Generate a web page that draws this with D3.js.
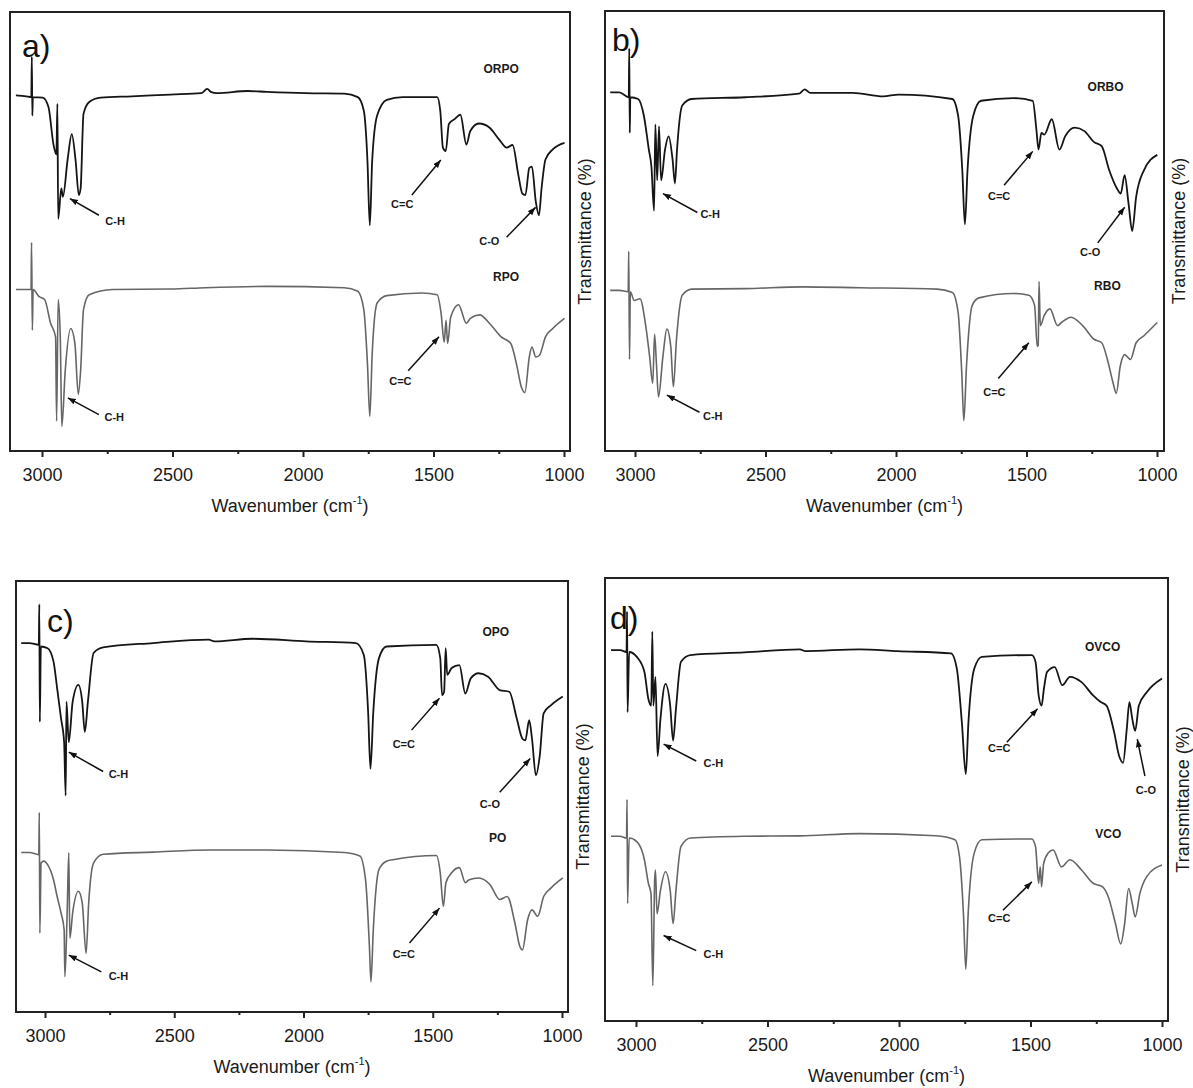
<!DOCTYPE html>
<html>
<head>
<meta charset="utf-8">
<script src="https://cdn.jsdelivr.net/npm/d3@7"></script>
<style>
  body { margin: 0; background: #fff; }
  svg { display: block; font-family: "Liberation Sans", Arial, sans-serif; }
</style>
</head>
<body>
<svg id="chart" width="1193" height="1088"></svg>
<script>
// ---- data (wavenumber cm-1, transmittance a.u. on a 0-100 panel scale) ----
const xTicks = [3000, 2500, 2000, 1500, 1000];
const xMinorTicks = [2750, 2250, 1750, 1250];

const ORPO = [[3100,81.0],[3060,80.8],[3041,80.6],[3039,89.8],[3037,76.4],[3035,80.6],[2997,80.5],[2975,78.3],[2956,69.8],[2945,67.5],[2941,79.1],[2938,52.9],[2926,59.8],[2920,57.9],[2901,66.8],[2886,72.2],[2871,66],[2859,58.3],[2852,59.8],[2841,76.8],[2819,79.5],[2775,80.5],[2656,80.8],[2508,81.2],[2390,81.5],[2367,82.5],[2353,81.8],[2330,81.5],[2212,82],[2138,81.8],[1990,81.5],[1842,81.4],[1790,80.6],[1767,77.5],[1753,66],[1744,51.4],[1735,66],[1716,76.4],[1679,80],[1619,80.6],[1486,80.6],[1474,77.5],[1464,69.1],[1453,68.3],[1441,74.5],[1419,75.6],[1397,76.6],[1374,69.8],[1359,72.9],[1326,74.6],[1286,73.7],[1249,71],[1219,69.1],[1197,69.7],[1175,62.9],[1160,58.7],[1148,58.3],[1133,64.5],[1123,64.8],[1108,56.8],[1096,53.7],[1086,59.8],[1071,66.4],[1043,68.7],[998,70.2]];
const RPO = [[3100,36.8],[3060,36.8],[3042,36.8],[3040,47.5],[3037,27.5],[3034,36.8],[3012,35.2],[2990,34.5],[2967,29.1],[2948,26],[2944,6.8],[2938,34.5],[2930,26],[2924,5.6],[2911,18.3],[2890,27.9],[2874,24.5],[2861,12.9],[2852,18.3],[2841,32.2],[2819,35.6],[2730,36.8],[2508,36.9],[2375,37.2],[2138,37.5],[1842,37.2],[1790,36.4],[1767,32.2],[1753,19.8],[1744,7.9],[1735,22],[1716,33.7],[1679,35.4],[1545,36],[1486,35.6],[1471,31.4],[1459,24.8],[1452,29.8],[1446,24.5],[1434,30.5],[1404,33.3],[1374,29.1],[1359,30.2],[1323,31],[1286,29.1],[1241,26],[1204,24.5],[1182,19.8],[1163,14.5],[1150,13.3],[1133,21.4],[1123,23.7],[1108,21.4],[1094,21.8],[1071,26],[1043,27.9],[998,30.2]];

const ORBO = [[3095,81.5],[3060,81.5],[3024,80.4],[3022,91.5],[3020,72.3],[3018,80.4],[2988,80],[2966,76.2],[2947,68.5],[2937,64.6],[2927,54.6],[2922,74.2],[2915,61.5],[2908,73.8],[2900,61.5],[2885,68.5],[2871,71.5],[2856,66.2],[2847,60.8],[2839,68.5],[2819,78.5],[2783,80],[2577,80.4],[2372,81.2],[2350,82.2],[2328,81.4],[2166,81.4],[2049,80.6],[1990,81],[1784,80],[1762,76.2],[1746,63.8],[1736,51.5],[1726,63.8],[1704,76.2],[1674,79.6],[1550,80.2],[1476,79.6],[1462,73],[1454,68.5],[1443,72.3],[1432,71.9],[1403,75.4],[1374,68.5],[1352,71.5],[1315,73.5],[1278,72.7],[1241,70.2],[1212,69.3],[1183,63.8],[1153,59.6],[1139,58.5],[1124,62.7],[1109,56.2],[1095,50],[1080,57.7],[1050,63.8],[999,67.3]];
const RBO = [[3095,36.5],[3060,36.5],[3026,36.2],[3024,45.4],[3021,20.8],[3018,36.2],[3003,34.2],[2981,34.6],[2959,28.5],[2944,21.5],[2932,15.4],[2925,26.5],[2918,20],[2910,12.3],[2893,21.5],[2878,27.7],[2863,23.8],[2853,14.6],[2841,25.4],[2819,35.4],[2783,36.8],[2577,36.9],[2357,37.3],[2137,37.1],[1843,36.8],[1784,36],[1762,31.5],[1748,17.7],[1740,6.9],[1730,19.2],[1708,33.1],[1682,34.8],[1550,35.8],[1491,35.4],[1469,33.1],[1459,23.8],[1455,24],[1452,38.5],[1447,28.5],[1432,30.8],[1410,32.3],[1381,28.5],[1366,29.2],[1329,30.4],[1285,28.5],[1241,25.4],[1212,24.6],[1190,20.8],[1168,15.4],[1156,13.1],[1141,19.2],[1124,21.9],[1102,20.8],[1080,24.6],[1050,26.2],[999,29.2]];

const OPO = [[3092,85.6],[3060,85.6],[3024,85.2],[3022,94.6],[3020,67.3],[3016,84.8],[2990,84.4],[2967,81.3],[2953,75.1],[2938,68.1],[2926,62.6],[2920,50.2],[2917,72],[2908,62.6],[2893,72],[2871,75.9],[2856,72],[2846,65],[2834,72],[2812,83.3],[2775,84.6],[2582,85.6],[2367,86.4],[2345,86],[2197,86.6],[1990,86],[1797,85.6],[1767,82.9],[1750,69.6],[1741,56.4],[1730,69.6],[1708,82.1],[1679,84.8],[1486,85.2],[1471,82.1],[1464,73.5],[1456,74.3],[1450,84.4],[1444,78.2],[1427,79.8],[1397,80.5],[1374,73.9],[1353,77.4],[1323,78.6],[1286,77.8],[1241,74.7],[1204,74.3],[1175,68.1],[1153,63.4],[1142,63],[1127,67.7],[1116,63.4],[1101,54.9],[1086,59.5],[1071,69.3],[1042,71.2],[997,73.2]];
const PO = [[3092,37],[3060,37],[3024,36.5],[3022,46.3],[3020,18.3],[3015,34.6],[3004,35],[2990,34.2],[2967,30.7],[2953,26.8],[2938,23],[2926,19.1],[2923,8.2],[2914,23.7],[2908,37],[2904,17.1],[2893,23],[2871,28],[2856,25.3],[2841,13.6],[2831,25.3],[2812,34.6],[2775,36.6],[2582,37.1],[2360,37.6],[2138,37.6],[1842,37],[1782,36.2],[1760,30.7],[1745,15.2],[1739,7],[1730,19.1],[1708,33.1],[1679,35],[1649,35.4],[1486,36.3],[1471,32.3],[1459,24.5],[1449,30],[1427,32.3],[1397,33.5],[1374,30],[1359,30.7],[1323,31.1],[1279,29.6],[1241,26.1],[1212,26.8],[1182,20.6],[1163,15.2],[1153,14.4],[1133,21.4],[1116,23.7],[1094,22.2],[1071,26.8],[1042,28.8],[997,31.1]];

const OVCO = [[3095,83.7],[3060,83.7],[3036,83.3],[3034,92.4],[3032,69.7],[3026,83.3],[2997,82.2],[2968,78.8],[2953,72.7],[2942,71.2],[2938,87.9],[2934,71.2],[2926,77.7],[2918,59.8],[2907,68.2],[2888,76.1],[2870,71.2],[2859,63.3],[2848,70.5],[2829,81.1],[2793,82.6],[2589,83.2],[2377,83.9],[2356,83.5],[2151,83.9],[2006,83.5],[1802,83],[1780,79.5],[1761,67.4],[1746,55.7],[1736,67.4],[1714,79.5],[1685,82.2],[1495,82.6],[1481,81.1],[1469,73.5],[1458,71.2],[1449,75],[1437,78.8],[1408,79.9],[1379,75.8],[1350,77.7],[1306,76.5],[1262,73.5],[1233,72],[1211,71.2],[1182,65.2],[1163,59.8],[1148,58.3],[1134,65.9],[1124,72],[1113,68.2],[1102,65.5],[1088,71.2],[1058,74.2],[1000,77.3]];
const VCO = [[3095,41.7],[3060,41.7],[3036,41.3],[3034,50],[3032,26.5],[3026,41.3],[2997,40.5],[2968,36.4],[2953,31.1],[2943,28.8],[2936,8],[2929,31.8],[2926,34.1],[2920,24.2],[2907,29.5],[2888,33.7],[2870,29.5],[2859,22],[2848,29.5],[2829,39.4],[2793,41.3],[2589,41.7],[2377,41.8],[2151,42.3],[1860,41.8],[1787,40.9],[1770,37.1],[1755,24.2],[1746,11.7],[1737,24.2],[1714,37.9],[1685,40.9],[1495,41.1],[1481,39.4],[1469,31.1],[1463,34.8],[1458,30.3],[1450,35.6],[1433,37.9],[1414,38.6],[1382,34.8],[1350,36.4],[1306,34.1],[1262,31.1],[1226,30.3],[1204,28],[1177,22],[1157,17.4],[1142,22],[1127,29.9],[1113,26.5],[1102,23.5],[1084,28.8],[1058,32.6],[1000,35.2]];

// sample names: [name, wavenumber, value]
const namesA = [["ORPO", 1241, 86.8], ["RPO", 1222, 39.5]];
const namesB = [["ORBO", 1197, 82.5], ["RBO", 1190, 37.3]];
const namesC = [["OPO", 1256, 87.9], ["PO", 1249, 40.1]];
const namesD = [["OVCO", 1226, 84.2], ["VCO", 1204, 42.0]];

// band annotations: arrow tip, arrow tail, label (all wavenumber/value)
const notesA = [
  {text: "C-H", tip: [2893, 57.5], tail: [2782, 53.7], at: [2720, 52.1]},
  {text: "C=C", tip: [1472, 66.3], tail: [1583, 58.3], at: [1620, 56.0]},
  {text: "C-O", tip: [1109, 55.5], tail: [1220, 48.7], at: [1286, 47.5]},
  {text: "C-H", tip: [2901, 12.1], tail: [2782, 8.3], at: [2723, 7.5]},
  {text: "C=C", tip: [1479, 26.0], tail: [1597, 18.3], at: [1627, 15.6]}
];
const notesB = [
  {text: "C-H", tip: [2893, 58.5], tail: [2761, 54.2], at: [2712, 53.7]},
  {text: "C=C", tip: [1476, 68.1], tail: [1586, 60.4], at: [1605, 57.7]},
  {text: "C-O", tip: [1124, 55.4], tail: [1227, 47.3], at: [1256, 45.0]},
  {text: "C-H", tip: [2878, 12.7], tail: [2753, 8.8], at: [2702, 7.7]},
  {text: "C=C", tip: [1491, 24.6], tail: [1608, 16.5], at: [1623, 13.1]}
];
const notesC = [
  {text: "C-H", tip: [2908, 60.3], tail: [2775, 55.8], at: [2716, 54.9]},
  {text: "C=C", tip: [1474, 72.8], tail: [1582, 65.4], at: [1612, 62.0]},
  {text: "C-O", tip: [1123, 58.8], tail: [1241, 51.0], at: [1279, 47.9]},
  {text: "C-H", tip: [2908, 13.2], tail: [2782, 9.3], at: [2716, 8.2]},
  {text: "C=C", tip: [1474, 24.1], tail: [1590, 16.0], at: [1612, 13.2]}
];
const notesD = [
  {text: "C-H", tip: [2895, 62.5], tail: [2771, 58.7], at: [2706, 58.0]},
  {text: "C=C", tip: [1473, 70.5], tail: [1590, 62.9], at: [1619, 61.4]},
  {text: "C-O", tip: [1094, 63.6], tail: [1065, 55.3], at: [1061, 51.9]},
  {text: "C-H", tip: [2895, 19.3], tail: [2771, 15.9], at: [2706, 14.8]},
  {text: "C=C", tip: [1495, 31.4], tail: [1605, 25.0], at: [1619, 23.1]}
];

// ---- layout ----
const panels = [
  {tag: "a)", tagX: 12, tagY: 45, l: 10,  t: 12,  r: 570,  b: 451,  x3000: 42,  x1000: 564,  upper: ORPO, lower: RPO, names: namesA, notes: notesA},
  {tag: "b)", tagX: 7,  tagY: 40, l: 605, t: 11,  r: 1164, b: 451,  x3000: 635, x1000: 1157, upper: ORBO, lower: RBO, names: namesB, notes: notesB},
  {tag: "c)", tagX: 31, tagY: 51, l: 16,  t: 581, r: 568,  b: 1012, x3000: 45,  x1000: 562,  upper: OPO,  lower: PO,  names: namesC, notes: notesC},
  {tag: "d)", tagX: 5,  tagY: 51, l: 605, t: 578, r: 1168, b: 1021, x3000: 636, x1000: 1162, upper: OVCO, lower: VCO, names: namesD, notes: notesD}
];

const svg = d3.select("#chart");

svg.append("defs").append("marker")
    .attr("id", "head")
    .attr("markerUnits", "userSpaceOnUse")
    .attr("markerWidth", 10).attr("markerHeight", 8)
    .attr("refX", 8).attr("refY", 3)
    .attr("orient", "auto")
  .append("path")
    .attr("d", "M0,0L8,3L0,6Z")
    .attr("fill", "#111");

panels.forEach(function(p, i) {
  var x = d3.scaleLinear().domain([3000, 1000]).range([p.x3000, p.x1000]);
  var y = d3.scaleLinear().domain([0, 100]).range([p.b, p.t]);
  var g = svg.append("g");

  var clipId = "clip" + i;
  svg.select("defs").append("clipPath").attr("id", clipId)
    .append("rect").attr("x", p.l).attr("y", p.t).attr("width", p.r - p.l).attr("height", p.b - p.t);

  var line = d3.line()
      .x(function(d) { return x(d[0]); })
      .y(function(d) { return y(d[1]); })
      .curve(d3.curveMonotoneX);

  var plot = g.append("g").attr("clip-path", "url(#" + clipId + ")");
  plot.append("path").datum(p.lower)
      .attr("d", line).attr("fill", "none")
      .attr("stroke", "#666").attr("stroke-width", 1.6).attr("stroke-linejoin", "round");
  plot.append("path").datum(p.upper)
      .attr("d", line).attr("fill", "none")
      .attr("stroke", "#151515").attr("stroke-width", 1.8).attr("stroke-linejoin", "round");

  // frame
  g.append("rect")
      .attr("x", p.l).attr("y", p.t).attr("width", p.r - p.l).attr("height", p.b - p.t)
      .attr("fill", "none").attr("stroke", "#222").attr("stroke-width", 2);

  // bottom axis
  var ax = g.append("g").attr("transform", "translate(0," + p.b + ")")
      .call(d3.axisBottom(x).tickValues(xTicks).tickSize(6).tickFormat(d3.format("d")));
  ax.select(".domain").remove();
  ax.selectAll(".tick line").attr("stroke", "#222").attr("stroke-width", 2);
  ax.selectAll(".tick text").attr("y", 17).attr("font-size", 18)
      .attr("font-family", "'Liberation Sans', Arial, sans-serif").attr("fill", "#1a1a1a");

  var axm = g.append("g").attr("transform", "translate(0," + p.b + ")")
      .call(d3.axisBottom(x).tickValues(xMinorTicks).tickSize(3).tickFormat(""));
  axm.select(".domain").remove();
  axm.selectAll(".tick line").attr("stroke", "#222").attr("stroke-width", 2);

  // x title
  var title = g.append("text")
      .attr("x", (p.l + p.r) / 2).attr("y", p.b + 61)
      .attr("text-anchor", "middle").attr("font-size", 18).attr("fill", "#1a1a1a");
  title.append("tspan").text("Wavenumber (cm");
  title.append("tspan").attr("font-size", 11).attr("dy", -8).text("-1");
  title.append("tspan").attr("dy", 8).text(")");

  // y title on the right
  g.append("text")
      .attr("transform", "translate(" + (p.r + 16) + "," + ((p.t + p.b) / 2) + ") rotate(-90)")
      .attr("text-anchor", "middle").attr("dominant-baseline", "middle")
      .attr("font-size", 18).attr("fill", "#1a1a1a")
      .text("Transmittance (%)");

  // panel tag
  g.append("text")
      .attr("x", p.l + p.tagX).attr("y", p.t + p.tagY)
      .attr("font-size", 32).attr("fill", "#111")
      .text(p.tag);

  // sample names
  g.selectAll(".name").data(p.names).enter().append("text")
      .attr("x", function(d) { return x(d[1]); })
      .attr("y", function(d) { return y(d[2]); })
      .attr("text-anchor", "middle").attr("dominant-baseline", "middle")
      .attr("font-size", 12).attr("font-weight", "bold").attr("fill", "#1a1a1a")
      .text(function(d) { return d[0]; });

  // band arrows + labels
  var notes = g.selectAll(".note").data(p.notes).enter().append("g");
  notes.append("line")
      .attr("x1", function(d) { return x(d.tail[0]); })
      .attr("y1", function(d) { return y(d.tail[1]); })
      .attr("x2", function(d) { return x(d.tip[0]); })
      .attr("y2", function(d) { return y(d.tip[1]); })
      .attr("stroke", "#111").attr("stroke-width", 1.5)
      .attr("marker-end", "url(#head)");
  notes.append("text")
      .attr("x", function(d) { return x(d.at[0]); })
      .attr("y", function(d) { return y(d.at[1]); })
      .attr("text-anchor", "middle").attr("dominant-baseline", "middle")
      .attr("font-size", 11).attr("font-weight", 600).attr("fill", "#1a1a1a")
      .text(function(d) { return d.text; });
});
</script>
</body>
</html>
